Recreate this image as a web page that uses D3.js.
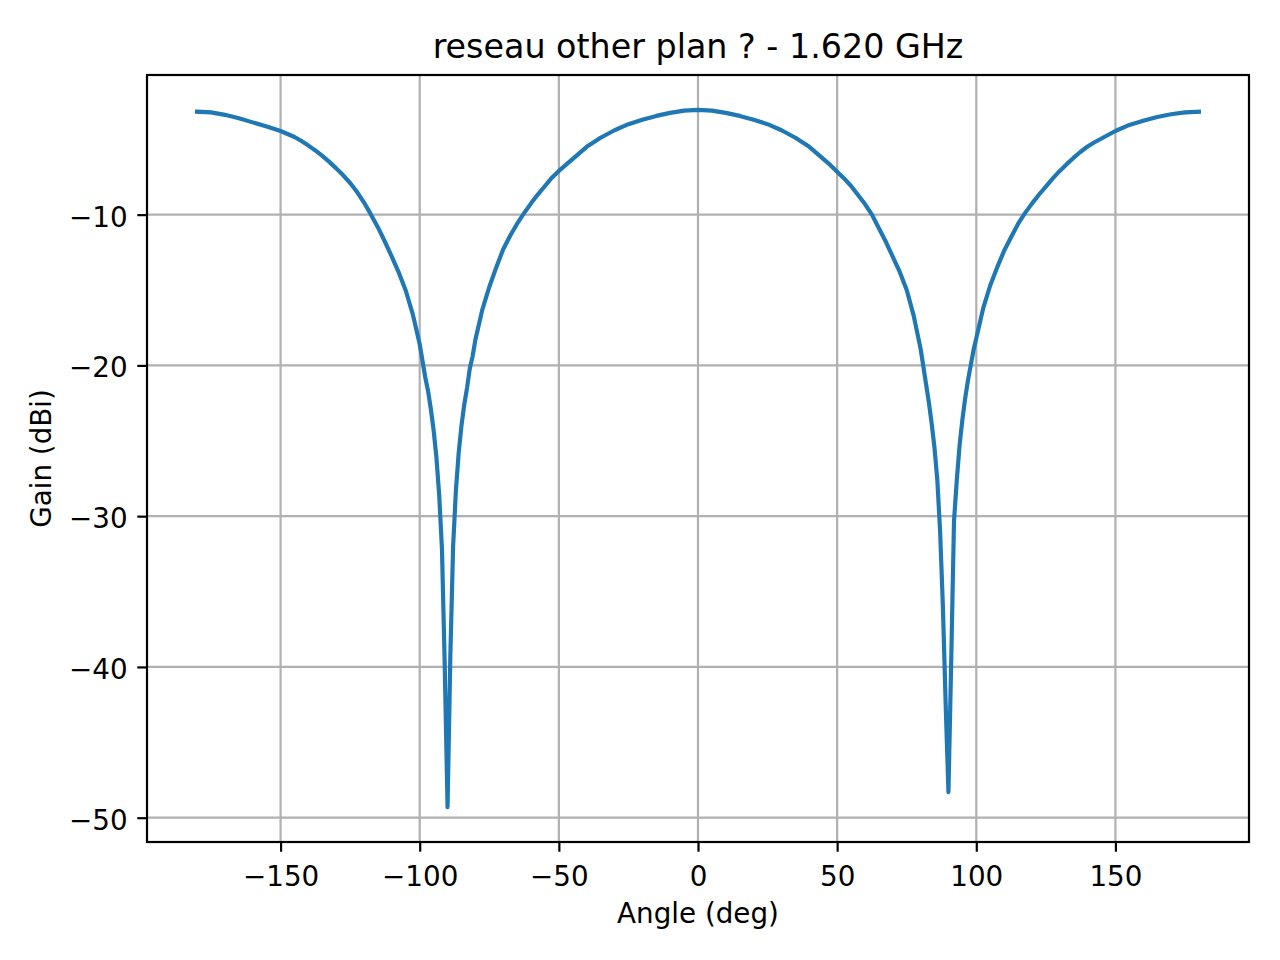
<!DOCTYPE html>
<html>
<head>
<meta charset="utf-8">
<script src="https://cdn.jsdelivr.net/npm/d3@7"></script>
<style>
  body { margin: 0; background: #fff; }
  svg { display: block; font-family: "DejaVu Sans", sans-serif; }
</style>
</head>
<body>
<div id="chart"></div>
<script>
const titleText = "reseau other plan ? - 1.620 GHz";
const xLabel = "Angle (deg)";
const yLabel = "Gain (dBi)";

const angles = [
  -180, -175, -170, -165, -160, -155, -150, -145, -142.5, -140, -137.5, -135, -132.5, -130,
  -127.5, -125, -122.5, -120, -117.5, -115, -112.5, -110, -107.5, -105, -102.5, -100,
  -99, -98, -97, -96, -95, -94, -93, -92, -91, -90, -89, -88, -87, -86, -85, -84, -83, -82, -81,
  -80, -77.5, -75, -72.5, -70, -67.5, -65, -62.5, -60, -57.5, -55, -52.5, -50, -47.5, -45, -42.5,
  -40, -35, -30, -25, -20, -15, -10, -5,
  0, 5, 10, 15, 20, 25, 30, 35, 40, 42.5, 45, 47.5, 50, 52.5, 55, 57.5, 60, 62.5, 65, 67.5,
  70, 72.5, 75, 77.5, 80,
  81, 82, 83, 84, 85, 86, 87, 88, 89, 90, 91, 92, 93, 94, 95, 96, 97, 98, 99,
  100, 102.5, 105, 107.5, 110, 112.5, 115, 117.5, 120, 122.5, 125, 127.5, 130, 132.5,
  135, 137.5, 140, 142.5, 145, 150, 155, 160, 165, 170, 175, 180
];

const gains = [
  -3.17, -3.22, -3.38, -3.6, -3.88, -4.15, -4.45, -4.85, -5.12, -5.42, -5.74, -6.1, -6.5, -6.93,
  -7.39, -7.9, -8.5, -9.2, -10.0, -10.85, -11.8, -12.8, -13.85, -15.05, -16.6, -18.6,
  -19.7, -20.8, -21.7, -22.9, -24.3, -26.1, -28.6, -32.2, -40.0, -49.3, -39.3, -32.0, -28.3, -25.8, -24.0, -22.6, -21.5, -20.2, -19.4,
  -18.3, -16.3, -14.8, -13.5, -12.3, -11.4, -10.6, -9.9, -9.25, -8.65, -8.1, -7.55, -7.1, -6.7, -6.3, -5.9,
  -5.5, -4.9, -4.4, -4.0, -3.7, -3.45, -3.25, -3.1,
  -3.05, -3.1, -3.25, -3.45, -3.7, -4.0, -4.4, -4.9, -5.5, -5.9, -6.3, -6.7, -7.15, -7.6, -8.1, -8.7, -9.3, -10.0, -10.9, -11.8,
  -12.8, -13.8, -15.0, -16.7, -18.9,
  -20.1, -21.3, -22.5, -23.9, -25.5, -27.6, -31.0, -36.0, -42.5, -48.3, -39.5, -30.3, -27.6, -25.3, -23.6, -22.2, -21.0, -20.0, -19.0,
  -18.2, -16.2, -14.7, -13.5, -12.4, -11.5, -10.62, -9.9, -9.27, -8.68, -8.14, -7.6, -7.1, -6.65,
  -6.22, -5.83, -5.48, -5.2, -4.95, -4.45, -4.05, -3.78, -3.52, -3.34, -3.22, -3.17
];

const xTicks = [-150, -100, -50, 0, 50, 100, 150];
const yTicks = [-50, -40, -30, -20, -10];

const W = 1280, H = 960;
const box = { left: 147, right: 1249, top: 75, bottom: 842 };
const fontSize = 27.78;

const svg = d3.select("#chart").append("svg")
  .attr("width", W)
  .attr("height", H);

// matplotlib style 5% margins
const xExt = d3.extent(angles);
const yExt = d3.extent(gains);
const xPad = (xExt[1] - xExt[0]) * 0.05;
const yPad = (yExt[1] - yExt[0]) * 0.05;

const x = d3.scaleLinear()
  .domain([xExt[0] - xPad, xExt[1] + xPad])
  .range([box.left, box.right]);

const y = d3.scaleLinear()
  .domain([yExt[0] - yPad, yExt[1] + yPad])
  .range([box.bottom, box.top]);

// grid
const grid = svg.append("g")
  .attr("stroke", "#b0b0b0")
  .attr("stroke-width", 2.2);

grid.selectAll(".vgrid")
  .data(xTicks)
  .enter()
  .append("line")
  .attr("x1", d => x(d))
  .attr("x2", d => x(d))
  .attr("y1", box.top)
  .attr("y2", box.bottom);

grid.selectAll(".hgrid")
  .data(yTicks)
  .enter()
  .append("line")
  .attr("x1", box.left)
  .attr("x2", box.right)
  .attr("y1", d => y(d))
  .attr("y2", d => y(d));

// curve
const points = angles.map((a, i) => ({ angle: a, gain: gains[i] }));

const line = d3.line()
  .x(d => x(d.angle))
  .y(d => y(d.gain));

svg.append("path")
  .datum(points)
  .attr("fill", "none")
  .attr("stroke", "#1f77b4")
  .attr("stroke-width", 4.17)
  .attr("stroke-linejoin", "round")
  .attr("stroke-linecap", "square")
  .attr("d", line);

// axes
const xAxis = svg.append("g")
  .attr("transform", `translate(0,${box.bottom})`)
  .call(d3.axisBottom(x).tickValues(xTicks).tickSize(9.7).tickPadding(9.7));

const yAxis = svg.append("g")
  .attr("transform", `translate(${box.left},0)`)
  .call(d3.axisLeft(y).tickValues(yTicks).tickSize(9.7).tickPadding(9.7));

[xAxis, yAxis].forEach(g => {
  g.select(".domain").remove();
  g.selectAll(".tick line").attr("stroke", "#000").attr("stroke-width", 2.2);
  g.selectAll(".tick text")
    .attr("fill", "#000")
    .style("font-size", fontSize + "px")
    .style("font-family", "DejaVu Sans");
});

xAxis.selectAll(".tick text").attr("dy", "0.885em");
yAxis.selectAll(".tick text").attr("dy", "0.41em");

// spines
svg.append("rect")
  .attr("x", box.left)
  .attr("y", box.top)
  .attr("width", box.right - box.left)
  .attr("height", box.bottom - box.top)
  .attr("fill", "none")
  .attr("stroke", "#000")
  .attr("stroke-width", 2.2);

// labels
svg.append("text")
  .attr("x", (box.left + box.right) / 2)
  .attr("y", 58)
  .attr("text-anchor", "middle")
  .style("font-size", "33.33px")
  .text(titleText);

svg.append("text")
  .attr("x", (box.left + box.right) / 2)
  .attr("y", 923)
  .attr("text-anchor", "middle")
  .style("font-size", fontSize + "px")
  .text(xLabel);

svg.append("text")
  .attr("transform", `translate(51,${(box.top + box.bottom) / 2}) rotate(-90)`)
  .attr("text-anchor", "middle")
  .style("font-size", fontSize + "px")
  .text(yLabel);
</script>
</body>
</html>
